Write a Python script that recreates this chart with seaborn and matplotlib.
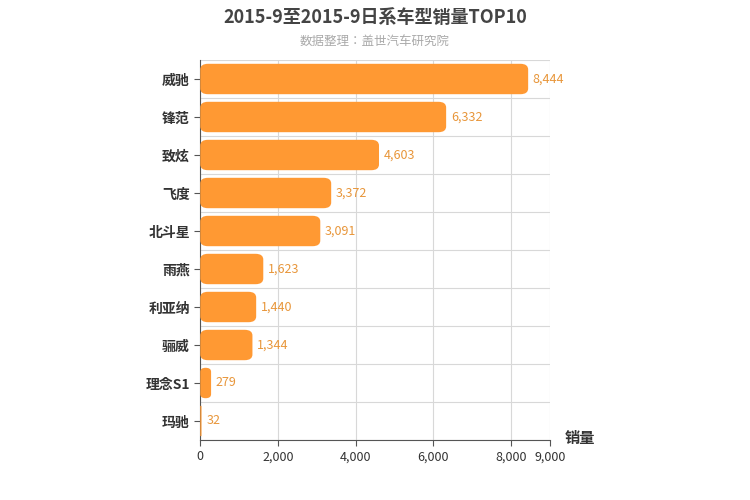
import matplotlib
matplotlib.use("Agg")
import matplotlib.pyplot as plt
import seaborn as sns
import pandas as pd
from matplotlib.patches import FancyBboxPatch

models = ["威驰", "锋范", "致炫", "飞度", "北斗星", "雨燕", "利亚纳", "骊威", "理念S1", "玛驰"]
sales = [8444, 6332, 4603, 3372, 3091, 1623, 1440, 1344, 279, 32]
xticks = [0, 2000, 4000, 6000, 8000, 9000]

plt.rcParams["font.family"] = ["Noto Sans CJK SC", "Noto Sans CJK JP", "Noto Sans CJK TC", "DejaVu Sans"]
df = pd.DataFrame({"model": models, "sales": sales})
fig = plt.figure(figsize=(7.5, 5), dpi=100)
ax = fig.add_axes([0.267, 0.12, 0.466, 0.76])
sns.barplot(data=df, y="model", x="sales", color="#FF9933", width=0.8, ax=ax, zorder=3)

for p in list(ax.patches):
    x, y, w, h = p.get_x(), p.get_y(), p.get_width(), p.get_height()
    p.remove()
    fb = FancyBboxPatch((x, y), w, h, boxstyle="round,pad=0",
                        facecolor="#FF9933", edgecolor="none", zorder=3)
    fb.set_boxstyle("round", pad=0, rounding_size=min(200, w / 2))
    fb.set_mutation_aspect(0.15 / 200)
    ax.add_patch(fb)

for i, v in enumerate(sales):
    ax.text(v + 120, i, f"{v:,}", va="center", ha="left", fontsize=9, color="#E8963A", zorder=4)

ax.set_xlim(0, 9000)
ax.set_ylim(len(models) - 0.5, -0.5)
ax.set_xticks(xticks)
ax.set_xticklabels([f"{t:,}" for t in xticks], fontsize=9, color="#333333")
ax.set_yticks(range(len(models)))
ax.set_yticklabels(models, fontsize=10, color="#333333", fontweight="bold")
ax.set_yticks([i + 0.5 for i in range(-1, len(models))], minor=True)
ax.grid(axis="x", color="#D8D8D8", lw=0.8, zorder=0)
ax.grid(axis="y", which="minor", color="#D8D8D8", lw=0.8, zorder=0)
ax.grid(axis="y", which="major", visible=False)
ax.tick_params(axis="y", which="minor", length=0)
ax.tick_params(axis="y", which="major", length=4, color="#555555")
ax.tick_params(axis="x", length=4, color="#555555")
for s in ["top", "right"]:
    ax.spines[s].set_visible(False)
ax.spines["left"].set_color("#555555")
ax.spines["bottom"].set_color("#555555")
ax.set_xlabel("")
ax.set_ylabel("")
fig.text(0.753, 0.115, "销量", fontsize=11, fontweight="bold", color="#333333")
fig.text(0.5, 0.965, "2015-9至2015-9日系车型销量TOP10", ha="center", va="center",
         fontsize=13, fontweight="bold", color="#444444")
fig.text(0.5, 0.918, "数据整理：盖世汽车研究院", ha="center", va="center", fontsize=9, color="#AAAAAA")
fig.savefig("out.png", dpi=100)
